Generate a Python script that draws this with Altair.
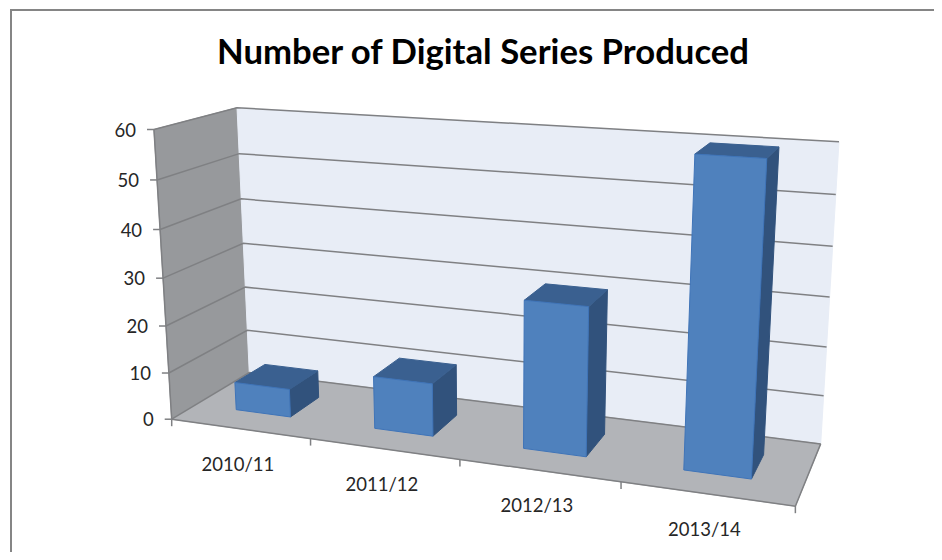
import numpy as np
import pandas as pd
import altair as alt

TITLE = "Number of Digital Series Produced"
CATEGORIES = ["2010/11", "2011/12", "2012/13", "2013/14"]
VALUES = [6, 11, 30, 60]
Y_TICKS = [0, 10, 20, 30, 40, 50, 60]

# Camera calibration: (category position, value, depth) -> picture pixel
CALIBRATION = [
    (0, 0, 0, 172, 419), (4, 0, 0, 795, 507),
    (0, 0, 1, 249, 373), (4, 0, 1, 821, 443),
    (0, 60, 1, 237, 108), (4, 60, 1, 839, 142),
    (0, 60, 0, 154, 129),
]
BAR_LEFT, BAR_RIGHT = 0.30, 0.70   # within a category slot
BAR_FRONT, BAR_BACK = 0.30, 0.70   # within the depth of the floor


def fit_camera(rows):
    a = []
    for u, v, d, px, py in rows:
        p = [u, v, d, 1]
        a.append(p + [0, 0, 0, 0] + [-px * c for c in p])
        a.append([0, 0, 0, 0] + p + [-py * c for c in p])
    a = np.array(a, float)
    s = np.array([1 / 4, 1 / 60, 1, 1])
    scale = np.concatenate([s, s, s])
    _, _, vt = np.linalg.svd(a / scale / np.array([1] * 8 + [500] * 4))
    m = vt[-1] / scale / np.array([1] * 8 + [500] * 4)
    return m.reshape(3, 4)


CAM = fit_camera(CALIBRATION)


def project(u, v, d):
    q = CAM @ np.array([u, v, d, 1.0])
    return q[0] / q[2], q[1] / q[2]


polys = []


def face(name, corners, fill, stroke="none", sw=0):
    for i, c in enumerate(list(corners) + [corners[0]]):
        x, y = project(*c)
        polys.append(dict(face=name, i=i, x=x, y=y, fill=fill, stroke=stroke))


# walls and floor
face("left", [(0, 0, 0), (0, 60, 0), (0, 60, 1), (0, 0, 1)], "#97999C", "#97999C")
face("back", [(0, 0, 1), (0, 60, 1), (4, 60, 1), (4, 0, 1)], "#E8EDF6", "#E8EDF6")
face("floor", [(0, 0, 0), (0, 0, 1), (4, 0, 1), (4, 0, 0)], "#B2B4B8", "#B2B4B8")

# gridlines, along the back wall and the left wall
grid = []
for t in Y_TICKS:
    for j, c in enumerate([(0, t, 0), (0, t, 1), (4, t, 1)]):
        x, y = project(*c)
        grid.append(dict(g=f"g{t}", i=j, x=x, y=y))
# outer axis lines
for j, c in enumerate([(0, 0, 0), (4, 0, 0), (4, 0, 1)]):
    x, y = project(*c)
    grid.append(dict(g="front", i=j, x=x, y=y))
for j, c in enumerate([(0, 0, 0), (0, 60, 0)]):
    x, y = project(*c)
    grid.append(dict(g="yaxis", i=j, x=x, y=y))
# tick marks
for t in Y_TICKS:
    x, y = project(0, t, 0)
    grid.append(dict(g=f"yt{t}", i=0, x=x, y=y))
    grid.append(dict(g=f"yt{t}", i=1, x=x - 7, y=y))
for k in range(len(CATEGORIES) + 1):
    x, y = project(k, 0, 0)
    grid.append(dict(g=f"xt{k}", i=0, x=x, y=y))
    grid.append(dict(g=f"xt{k}", i=1, x=x, y=y + 7))

# bars
bars_start = len(polys)
for k, val in enumerate(VALUES):
    l, r = k + BAR_LEFT, k + BAR_RIGHT
    f, b = BAR_FRONT, BAR_BACK
    face(f"side{k}", [(r, 0, f), (r, val, f), (r, val, b), (r, 0, b)], "#31527C", "#31527C")
    face(f"top{k}", [(l, val, f), (l, val, b), (r, val, b), (r, val, f)], "#3A6090", "#3A6090")
    face(f"front{k}", [(l, 0, f), (l, val, f), (r, val, f), (r, 0, f)], "#4F81BD", "#3F74B8")
bars = polys[bars_start:]
walls = polys[:bars_start]

ylabels = []
for t in Y_TICKS:
    x, y = project(0, t, 0)
    ylabels.append(dict(x=x - 18, y=y + 1, t=str(t)))
xlabels = []
for k, c in enumerate(CATEGORIES):
    x, y = project(k + 0.5, 0, 0)
    xlabels.append(dict(x=x - 2, y=y + 36, t=c))

X = alt.X("x:Q", scale=alt.Scale(domain=[8, 934], nice=False), axis=None)
Y = alt.Y("y:Q", scale=alt.Scale(domain=[552, 8], nice=False), axis=None)


def poly_layer(rows):
    return alt.Chart(pd.DataFrame(rows)).mark_line(interpolate="linear", strokeWidth=1).encode(
        x=X, y=Y, order="i:Q", detail="face:N",
        fill=alt.Fill("fill:N", scale=None),
        stroke=alt.Stroke("stroke:N", scale=None),
    )


grid_layer = alt.Chart(pd.DataFrame(grid)).mark_line(color="#7F8083", strokeWidth=1.5).encode(
    x=X, y=Y, order="i:Q", detail="g:N"
)

frame = alt.Chart(pd.DataFrame([
    dict(i=0, x=11, y=552), dict(i=1, x=11, y=10), dict(i=2, x=934, y=10),
])).mark_line(color="#858585", strokeWidth=2).encode(x=X, y=Y, order="i:Q")

title = alt.Chart(pd.DataFrame([dict(x=483, y=54, t=TITLE)])).mark_text(
    font="Lato", fontSize=34.7, fontWeight="bold", color="#000000"
).encode(x=X, y=Y, text="t:N")

ytext = alt.Chart(pd.DataFrame(ylabels)).mark_text(
    font="Lato", fontSize=18.5, align="right", color="#262626"
).encode(x=X, y=Y, text="t:N")
xtext = alt.Chart(pd.DataFrame(xlabels)).mark_text(
    font="Lato", fontSize=18.5, color="#262626"
).encode(x=X, y=Y, text="t:N")

chart = alt.layer(
    frame, title, poly_layer(walls), grid_layer, poly_layer(bars), ytext, xtext
).properties(
    width=926, height=544, padding=0,
    autosize=alt.AutoSizeParams(type="none"),
    background="#FFFFFF",
).configure_view(stroke=None)

chart.save("out.html", embed_options={"renderer": "svg", "actions": False})
